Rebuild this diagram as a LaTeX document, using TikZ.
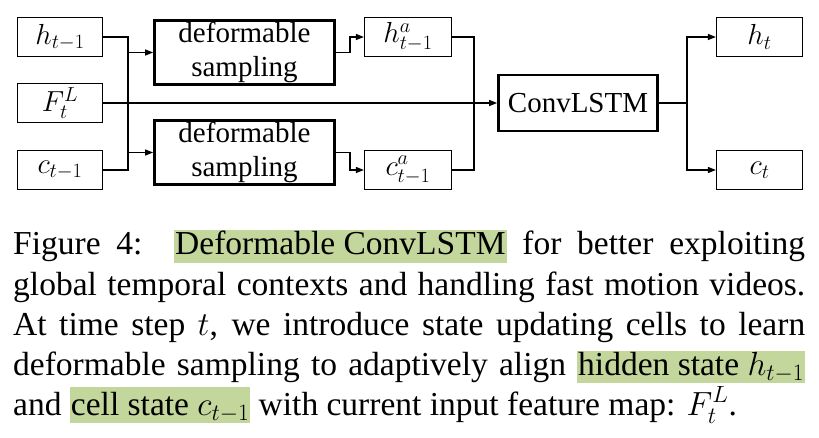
\RequirePackage{fix-cm}
\documentclass[tikz,border=0pt]{standalone}
\usepackage{amsmath,amssymb}
\usepackage{xcolor}
\usepackage{fontspec}
\setmainfont{LiberationSerif}[Extension=.ttf, UprightFont=*-Regular, BoldFont=*-Bold, ItalicFont=*-Italic]
\usepackage{tikz}
\usetikzlibrary{arrows.meta}
\usetikzlibrary{positioning}

\definecolor{hlgreen}{RGB}{195,214,155}
\newcommand{\hlbox}[2][28pt]{{\setlength{\fboxsep}{1pt}\colorbox{hlgreen}{\rule[-7pt]{0pt}{#1}#2}}}

\begin{document}
\begin{tikzpicture}[x=1pt, y=-1pt,
    every node/.style={font=\rmfamily\fontsize{29}{34}\selectfont},
    small box/.style={draw, line width=1.2pt, minimum width=85pt, minimum height=39pt, inner sep=0pt},
    thick box/.style={draw, line width=2.8pt, align=center, inner sep=0pt},
    link/.style={line width=1.3pt},
    arrow/.style={link, -{Triangle[length=8pt, width=6pt]}},
    caption line/.style={anchor=base west, inner sep=0pt, font=\rmfamily\fontsize{33.5}{40}\selectfont},
  ]
  \useasboundingbox (0, 0) rectangle (819, 438);

  \node[small box] (hprev) at (60, 37)  {$h_{t-1}$};
  \node[small box] (fin)   at (60, 103) {$F_t^L$};
  \node[small box] (cprev) at (60, 170) {$c_{t-1}$};
  \node[thick box, minimum width=180pt, minimum height=64pt] (samph) at (244.5, 52.5)  {deformable\\sampling};
  \node[thick box, minimum width=180pt, minimum height=64pt] (sampc) at (244.5, 152.5) {deformable\\sampling};
  \node[small box, minimum width=87pt] (ha) at (408, 37)  {$h_{t-1}^a$};
  \node[small box, minimum width=87pt] (ca) at (408, 170) {$c_{t-1}^a$};
  \node[thick box, minimum width=159pt, minimum height=56pt] (conv) at (578, 103) {ConvLSTM};
  \node[small box, minimum width=86pt] (ht) at (759.5, 37)  {$h_t$};
  \node[small box, minimum width=86pt] (ct) at (759.5, 170) {$c_t$};

  \coordinate (jl) at (128, 0);
  \coordinate (jm) at (350, 0);
  \coordinate (jr) at (474, 0);
  \coordinate (jo) at (687, 0);

  \draw[link]  (hprev.east) -- (hprev.east -| jl) -- (cprev.east -| jl) -- (cprev.east);
  \draw[arrow] (samph.west -| jl) -- (samph.west);
  \draw[arrow] (sampc.west -| jl) -- (sampc.west);
  \draw[arrow] (samph.east) -- (samph.east -| jm) |- (ha.west);
  \draw[arrow] (sampc.east) -- (sampc.east -| jm) |- (ca.west);
  \draw[link]  (ha.east) -- (ha.east -| jr) -- (ca.east -| jr) -- (ca.east);
  \draw[arrow] (fin.east) -- (conv.west);
  \draw[arrow] (conv.east) -- (conv.east -| jo) |- (ht.west);
  \draw[arrow] (conv.east -| jo) |- (ct.west);

  \node[caption line] (cap1) at (13, 255) {\makebox[792pt][s]{Figure 4:\ \ \hlbox{Deformable ConvLSTM} for better exploiting}};
  \node[caption line] (cap2) at (13, 295) {\makebox[792pt][s]{global temporal contexts and handling fast motion videos.}};
  \node[caption line] (cap3) at (13, 335) {\makebox[792pt][s]{At time step $t$, we introduce state updating cells to learn}};
  \node[caption line] (cap4) at (13, 375) {\makebox[792pt][s]{deformable sampling to adaptively align \hlbox{hidden state $h_{t-1}$}}};
  \node[caption line] (cap5) at (13, 415) {and \hlbox[34pt]{cell state $c_{t-1}$} with current input feature map: $F_t^L$.};

\end{tikzpicture}
\end{document}
